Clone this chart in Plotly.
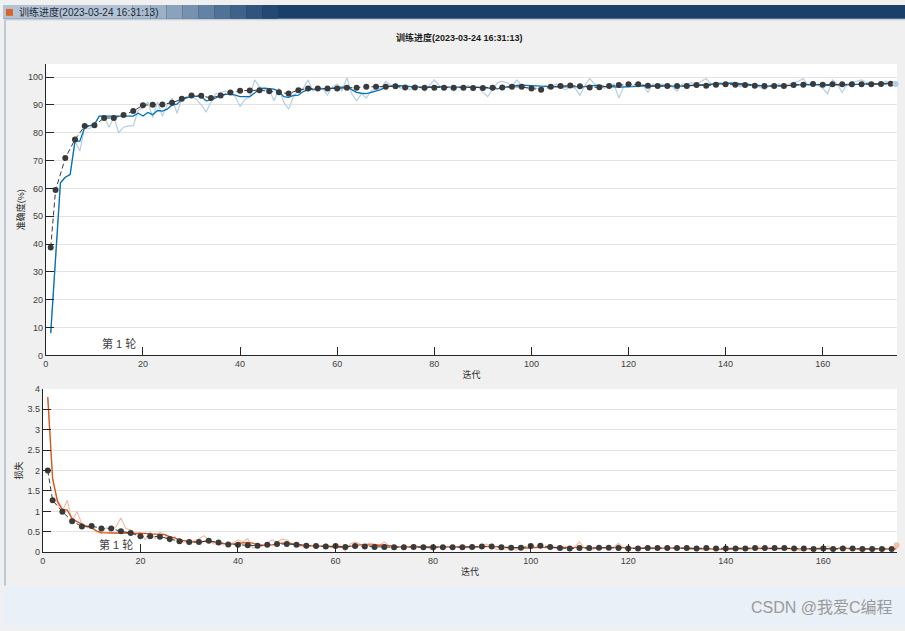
import plotly.graph_objects as go

# ---------------- data ----------------
iters = list(range(1, 176))
val_iters = [1] + list(range(2, 175, 2))

train_acc_raw = [
    8, 35, 62, 64, 65, 77, 73.5, 82, 81.5, 83,
    86, 86, 82, 85.5, 80, 82, 82.5, 82.5, 88, 89,
    91, 85.5, 91, 86, 90, 92.5, 87, 92, 93, 93,
    92, 90, 87.5, 91, 94, 94.5, 95, 94, 93, 89.5,
    92, 93, 99, 96.5, 96, 95.5, 91.5, 96, 91, 88.5,
    93, 95.5, 96, 99, 95, 96.5, 96, 93.5, 96.5, 97.5,
    95, 99.8, 94, 91.5, 94, 92.5, 95, 96, 96, 98.5,
    97, 97.5, 96, 96.5, 95.5, 97, 96.5, 95, 97, 99,
    97, 95.5, 96.5, 95, 96.5, 96, 97, 96, 96.5, 94.5,
    93, 95.5, 98, 98.5, 98, 96.5, 99, 97, 96, 97,
    96, 95.5, 97, 96, 97.5, 96.5, 95.5, 96.5, 96, 93.5,
    97, 99.5, 97.5, 97, 96, 97, 97.5, 92.5, 96.5, 97.5,
    97, 97.5, 97, 94.5, 97.5, 97, 97.5, 97, 96.5, 95,
    97.5, 97.5, 98, 97.5, 98.5, 99.5, 97.5, 98, 98, 97.5,
    98, 97.5, 96.5, 97, 97.5, 96.5, 96.5, 95.5, 97, 97,
    97.5, 96.5, 97.5, 98, 98.5, 99.5, 97, 97.5, 97, 96,
    94, 99, 97.5, 94.5, 97.5, 98, 98.5, 99, 98, 98,
    97.5, 97.5, 98.5, 97.5, 97.5,
]

train_acc_smooth = [
    8, 35, 62, 64, 65, 77, 77, 82, 82.5, 83,
    86, 86, 86, 86, 86, 86, 86, 86, 87, 86,
    87.3, 86.5, 88, 87.8, 88.5, 90, 90.3, 92, 92.5, 93,
    93.2, 93, 91.5, 91.8, 92.5, 93.3, 93.8, 94, 93.5, 93,
    93, 93, 94.3, 95.7, 96, 95.8, 95.7, 94.8, 93, 92.7,
    93.4, 93.5, 94.8, 95.5, 95.6, 95.6, 95.7, 95.8, 96, 96.3,
    96.5, 96.5, 95.5, 94.5, 94.2, 94.1, 94.5, 95, 95.5, 96.5,
    96.8, 96.9, 96.9, 96.7, 96.6, 96.5, 96.4, 96.3, 96.5, 96.6,
    96.6, 96.5, 96.5, 96.4, 96.4, 96.4, 96.4, 96.3, 96.3, 96.2,
    96.1, 96, 95.8, 96.2, 96.5, 96.8, 97, 97.1, 97, 97,
    96.8, 96.6, 96.5, 96.5, 96.5, 96.5, 96.5, 96.4, 96.5, 96.4,
    96.6, 96.9, 97, 97, 96.7, 96.5, 96.5, 96.4, 96.4, 96.5,
    96.6, 96.8, 96.9, 96.7, 96.8, 96.9, 96.9, 96.9, 96.8, 96.7,
    96.8, 96.9, 97, 97.1, 97.3, 97.4, 97.6, 97.7, 97.8, 97.8,
    97.8, 97.8, 97.6, 97.4, 97.2, 97, 96.9, 96.8, 96.8, 96.8,
    96.8, 96.8, 96.9, 97, 97.2, 97.3, 97.4, 97.4, 97.3, 97.2,
    97, 97.2, 97.3, 97.1, 97.2, 97.4, 97.5, 97.6, 97.7, 97.7,
    97.6, 97.6, 97.7, 97.7, 97.8,
]

val_acc = [
    38.8, 59.4, 70.9, 77.6, 82.4, 82.7, 85.3, 85.3, 86.4, 87.8,
    89.9, 90.1, 90.2, 90.8, 92.2, 93.4, 93.3, 92.5, 93.4, 94.5,
    95.1, 95.2, 95.3, 94.9, 94.6, 94.1, 95.3, 95.9, 95.9, 95.9,
    95.9, 96.2, 96.2, 96.5, 96.5, 96.5, 96.7, 96.3, 96.3, 96.2,
    96.2, 96.2, 96.2, 96.2, 96.1, 96.1, 96.2, 96.3, 96.5, 96.5,
    95.9, 95.5, 96.5, 96.8, 97.0, 96.7, 96.3, 96.4, 96.8, 97.2,
    97.4, 97.4, 96.9, 96.8, 96.8, 96.8, 96.8, 97.2, 96.9, 97.3,
    97.4, 97.3, 97.2, 96.9, 96.8, 96.8, 96.8, 97.2, 97.3, 97.5,
    97.3, 97.4, 97.4, 97.4, 97.4, 97.4, 97.5, 97.6,
]

train_loss_raw = [
    3.8, 1.8, 1.2, 1.0, 1.27, 0.75, 1.0, 0.68, 0.6, 0.6,
    0.5, 0.45, 0.6, 0.55, 0.62, 0.84, 0.58, 0.55, 0.42, 0.48,
    0.3, 0.5, 0.33, 0.5, 0.42, 0.25, 0.38, 0.25, 0.25, 0.24,
    0.28, 0.33, 0.4, 0.3, 0.2, 0.2, 0.18, 0.2, 0.23, 0.3,
    0.25, 0.33, 0.1, 0.12, 0.15, 0.22, 0.3, 0.25, 0.32, 0.3,
    0.2, 0.15, 0.15, 0.1, 0.17, 0.15, 0.14, 0.2, 0.13, 0.1,
    0.15, 0.03, 0.2, 0.25, 0.2, 0.18, 0.22, 0.2, 0.17, 0.25,
    0.15, 0.1, 0.13, 0.15, 0.12, 0.18, 0.12, 0.15, 0.1, 0.05,
    0.12, 0.15, 0.12, 0.15, 0.12, 0.13, 0.1, 0.12, 0.11, 0.17,
    0.2, 0.15, 0.07, 0.06, 0.08, 0.1, 0.05, 0.1, 0.12, 0.11,
    0.13, 0.14, 0.1, 0.12, 0.09, 0.12, 0.13, 0.1, 0.12, 0.25,
    0.1, 0.04, 0.08, 0.1, 0.12, 0.1, 0.12, 0.22, 0.1, 0.08,
    0.1, 0.09, 0.1, 0.16, 0.08, 0.1, 0.09, 0.1, 0.11, 0.15,
    0.09, 0.08, 0.07, 0.09, 0.06, 0.04, 0.08, 0.07, 0.07, 0.08,
    0.07, 0.08, 0.11, 0.09, 0.1, 0.1, 0.12, 0.13, 0.1, 0.09,
    0.08, 0.1, 0.08, 0.06, 0.05, 0.04, 0.09, 0.08, 0.1, 0.12,
    0.15, 0.05, 0.09, 0.15, 0.08, 0.07, 0.06, 0.05, 0.07, 0.08,
    0.09, 0.08, 0.07, 0.08, 0.17,
]

train_loss_smooth = [
    3.8, 1.8, 1.25, 1.05, 1.03, 0.82, 0.75, 0.68, 0.63, 0.6,
    0.52, 0.48, 0.47, 0.47, 0.47, 0.47, 0.47, 0.47, 0.47, 0.46,
    0.46, 0.45, 0.44, 0.44, 0.43, 0.38, 0.35, 0.3, 0.28, 0.26,
    0.25, 0.25, 0.26, 0.27, 0.25, 0.23, 0.21, 0.2, 0.2, 0.21,
    0.22, 0.24, 0.22, 0.18, 0.17, 0.17, 0.18, 0.2, 0.22, 0.22,
    0.21, 0.2, 0.18, 0.16, 0.15, 0.15, 0.15, 0.14, 0.14, 0.13,
    0.12, 0.13, 0.15, 0.17, 0.18, 0.18, 0.18, 0.18, 0.18, 0.17,
    0.16, 0.14, 0.13, 0.13, 0.13, 0.13, 0.13, 0.13, 0.13, 0.12,
    0.12, 0.12, 0.12, 0.12, 0.12, 0.12, 0.12, 0.12, 0.12, 0.13,
    0.14, 0.14, 0.13, 0.13, 0.12, 0.11, 0.1, 0.1, 0.1, 0.11,
    0.11, 0.12, 0.12, 0.12, 0.11, 0.11, 0.11, 0.11, 0.11, 0.12,
    0.11, 0.1, 0.1, 0.1, 0.1, 0.11, 0.11, 0.12, 0.11, 0.1,
    0.1, 0.1, 0.1, 0.11, 0.1, 0.1, 0.1, 0.1, 0.1, 0.11,
    0.1, 0.1, 0.09, 0.09, 0.09, 0.08, 0.08, 0.07, 0.07, 0.07,
    0.07, 0.07, 0.08, 0.08, 0.09, 0.09, 0.1, 0.1, 0.1, 0.1,
    0.1, 0.1, 0.09, 0.09, 0.08, 0.08, 0.08, 0.08, 0.08, 0.09,
    0.09, 0.09, 0.09, 0.1, 0.09, 0.09, 0.08, 0.08, 0.08, 0.08,
    0.08, 0.08, 0.08, 0.08, 0.08,
]

val_loss = [
    2.0, 1.27, 0.99, 0.76, 0.63, 0.64, 0.58, 0.58, 0.51, 0.47,
    0.39, 0.39, 0.38, 0.32, 0.27, 0.25, 0.25, 0.28, 0.24, 0.19,
    0.18, 0.17, 0.16, 0.18, 0.2, 0.2, 0.18, 0.16, 0.15, 0.14,
    0.15, 0.13, 0.15, 0.14, 0.13, 0.13, 0.12, 0.12, 0.13, 0.12,
    0.12, 0.12, 0.12, 0.12, 0.13, 0.14, 0.14, 0.12, 0.11, 0.11,
    0.15, 0.16, 0.13, 0.1, 0.09, 0.1, 0.1, 0.11, 0.11, 0.1,
    0.09, 0.09, 0.1, 0.1, 0.1, 0.1, 0.1, 0.09, 0.1, 0.09,
    0.09, 0.09, 0.09, 0.1, 0.1, 0.1, 0.1, 0.09, 0.09, 0.08,
    0.09, 0.08, 0.09, 0.09, 0.08, 0.08, 0.08, 0.08,
]

title_text = "训练进度(2023-03-24 16:31:13)"
acc_ticks = list(range(0, 101, 10))
loss_ticks = [0, 0.5, 1, 1.5, 2, 2.5, 3, 3.5, 4]
loss_ticktext = ["0", "0.5", "1", "1.5", "2", "2.5", "3", "3.5", "4"]
x_ticks = list(range(0, 161, 20))

# ---------------- layout helpers ----------------
W, H = 905, 631


def px(x):
    return x / W


def py(y):
    return 1 - y / H


FONT = "Liberation Sans, Arial, Noto Sans CJK SC, sans-serif"
ACC_DARK = "#0072BD"
ACC_LIGHT = "#B4CEE8"
LOSS_DARK = "#D95319"
LOSS_LIGHT = "#F2C0A8"
VAL = "#3A3A3A"

fig = go.Figure()

# accuracy
fig.add_trace(go.Scatter(x=iters, y=train_acc_raw, mode="lines",
                         line=dict(color=ACC_LIGHT, width=1.2),
                         xaxis="x", yaxis="y", hoverinfo="skip"))
fig.add_trace(go.Scatter(x=iters, y=train_acc_smooth, mode="lines",
                         line=dict(color=ACC_DARK, width=1.3),
                         xaxis="x", yaxis="y"))
fig.add_trace(go.Scatter(x=val_iters, y=val_acc, mode="lines+markers",
                         line=dict(color=VAL, width=1, dash="5px,3px"),
                         marker=dict(color=VAL, size=6),
                         xaxis="x", yaxis="y"))
fig.add_trace(go.Scatter(x=[iters[-1]], y=[train_acc_raw[-1]], mode="markers",
                         marker=dict(color=ACC_LIGHT, size=6),
                         xaxis="x", yaxis="y", cliponaxis=False))

# loss
fig.add_trace(go.Scatter(x=iters, y=train_loss_raw, mode="lines",
                         line=dict(color=LOSS_LIGHT, width=1.2),
                         xaxis="x2", yaxis="y2", hoverinfo="skip"))
fig.add_trace(go.Scatter(x=iters, y=train_loss_smooth, mode="lines",
                         line=dict(color=LOSS_DARK, width=1.3),
                         xaxis="x2", yaxis="y2"))
fig.add_trace(go.Scatter(x=val_iters, y=val_loss, mode="lines+markers",
                         line=dict(color=VAL, width=1, dash="5px,3px"),
                         marker=dict(color=VAL, size=6),
                         xaxis="x2", yaxis="y2"))
fig.add_trace(go.Scatter(x=[iters[-1]], y=[train_loss_raw[-1]], mode="markers",
                         marker=dict(color=LOSS_LIGHT, size=6),
                         xaxis="x2", yaxis="y2", cliponaxis=False))

axis_common = dict(
    ticks="inside", ticklen=8, tickwidth=1, tickcolor="#262626",
    showline=True, linecolor="#262626", linewidth=1,
    zeroline=False, tickfont=dict(size=9, color="#404040", family=FONT),
)

fig.update_layout(
    width=W, height=H,
    margin=dict(l=0, r=0, t=0, b=0),
    paper_bgcolor="#F0F0F0",
    plot_bgcolor="#FFFFFF",
    showlegend=False,
    font=dict(family=FONT, color="#262626"),
    xaxis=dict(domain=[px(43), px(897)], anchor="y", range=[0, 175.3],
               tickvals=x_ticks, showgrid=False,
               title=dict(text="迭代", font=dict(size=9, color="#262626"), standoff=3),
               **axis_common),
    yaxis=dict(domain=[py(356), py(60)], anchor="x", range=[0, 104.7],
               tickvals=acc_ticks, showgrid=True, gridcolor="#E3E3E3", gridwidth=1,
               title=dict(text="准确度(%)", font=dict(size=9, color="#262626"), standoff=1),
               **axis_common),
    xaxis2=dict(domain=[px(40), px(897)], anchor="y2", range=[0, 175.1],
                tickvals=x_ticks, showgrid=False,
                title=dict(text="迭代", font=dict(size=9, color="#262626"), standoff=3),
                **axis_common),
    yaxis2=dict(domain=[py(556), py(390)], anchor="x2", range=[0, 4],
                tickvals=loss_ticks, ticktext=loss_ticktext,
                showgrid=True, gridcolor="#E3E3E3", gridwidth=1,
                title=dict(text="损失", font=dict(size=9, color="#262626"), standoff=3),
                **axis_common),
)

# title bar gradient (light glass at left fading to dark navy)
bar_colors = ["#B3C3D4", "#A9BBCE", "#9CB0C6", "#8BA2BC", "#7792B0",
              "#6382A4", "#507297", "#3F628A", "#31547E", "#254873"]
shapes = [
    dict(type="rect", xref="paper", yref="paper", x0=0, x1=1, y0=py(14), y1=1,
         fillcolor="#1B3F6B", line=dict(width=0), layer="below"),
]
seg_edges = [0, 130, 148, 164, 180, 196, 212, 228, 244, 260, 276]
for i, c in enumerate(bar_colors):
    shapes.append(dict(type="rect", xref="paper", yref="paper",
                       x0=px(seg_edges[i]), x1=px(seg_edges[i + 1]), y0=py(14), y1=1,
                       fillcolor=c, line=dict(width=0), layer="below"))
shapes += [
    # icon
    dict(type="rect", xref="paper", yref="paper", x0=px(3), x1=px(10), y0=py(11), y1=py(4),
         fillcolor="#D9652B", line=dict(width=0), layer="below"),
    # window frame lines
    dict(type="line", xref="paper", yref="paper", x0=px(2), x1=px(2), y0=py(590), y1=py(15),
         line=dict(color="#8FA3BA", width=1), layer="below"),
    dict(type="line", xref="paper", yref="paper", x0=px(2), x1=1, y0=py(15), y1=py(15),
         line=dict(color="#B8C4D0", width=1), layer="below"),
    # bottom strip
    dict(type="rect", xref="paper", yref="paper", x0=0, x1=1, y0=0, y1=py(591),
         fillcolor="#EAF0F8", line=dict(width=0), layer="below"),
]
fig.update_layout(shapes=shapes)

annotations = [
    dict(text="<b>" + title_text + "</b>", xref="paper", yref="paper", x=px(458), y=py(33),
         showarrow=False, xanchor="center", yanchor="middle",
         font=dict(size=9, color="#1A1A1A", family=FONT)),
    dict(text=title_text, xref="paper", yref="paper", x=px(14), y=py(7),
         showarrow=False, xanchor="left", yanchor="middle",
         font=dict(size=10, color="#1E2A38", family=FONT)),
    dict(text="第 1 轮", xref="paper", yref="paper", x=px(116), y=py(344),
         showarrow=False, xanchor="center", yanchor="middle",
         font=dict(size=11, color="#404040", family=FONT)),
    dict(text="第 1 轮", xref="paper", yref="paper", x=px(113), y=py(548),
         showarrow=False, xanchor="center", yanchor="middle",
         font=dict(size=11, color="#404040", family=FONT)),
    dict(text="CSDN @我爱C编程", xref="paper", yref="paper", x=px(895), y=py(612),
         showarrow=False, xanchor="right", yanchor="middle",
         font=dict(size=16, color="#9A9A9A", family=FONT)),
]
fig.update_layout(annotations=annotations)

fig.write_html("out.html",
               config={"displayModeBar": False},
               post_script="document.body.style.margin='0';document.body.style.padding='0';")
